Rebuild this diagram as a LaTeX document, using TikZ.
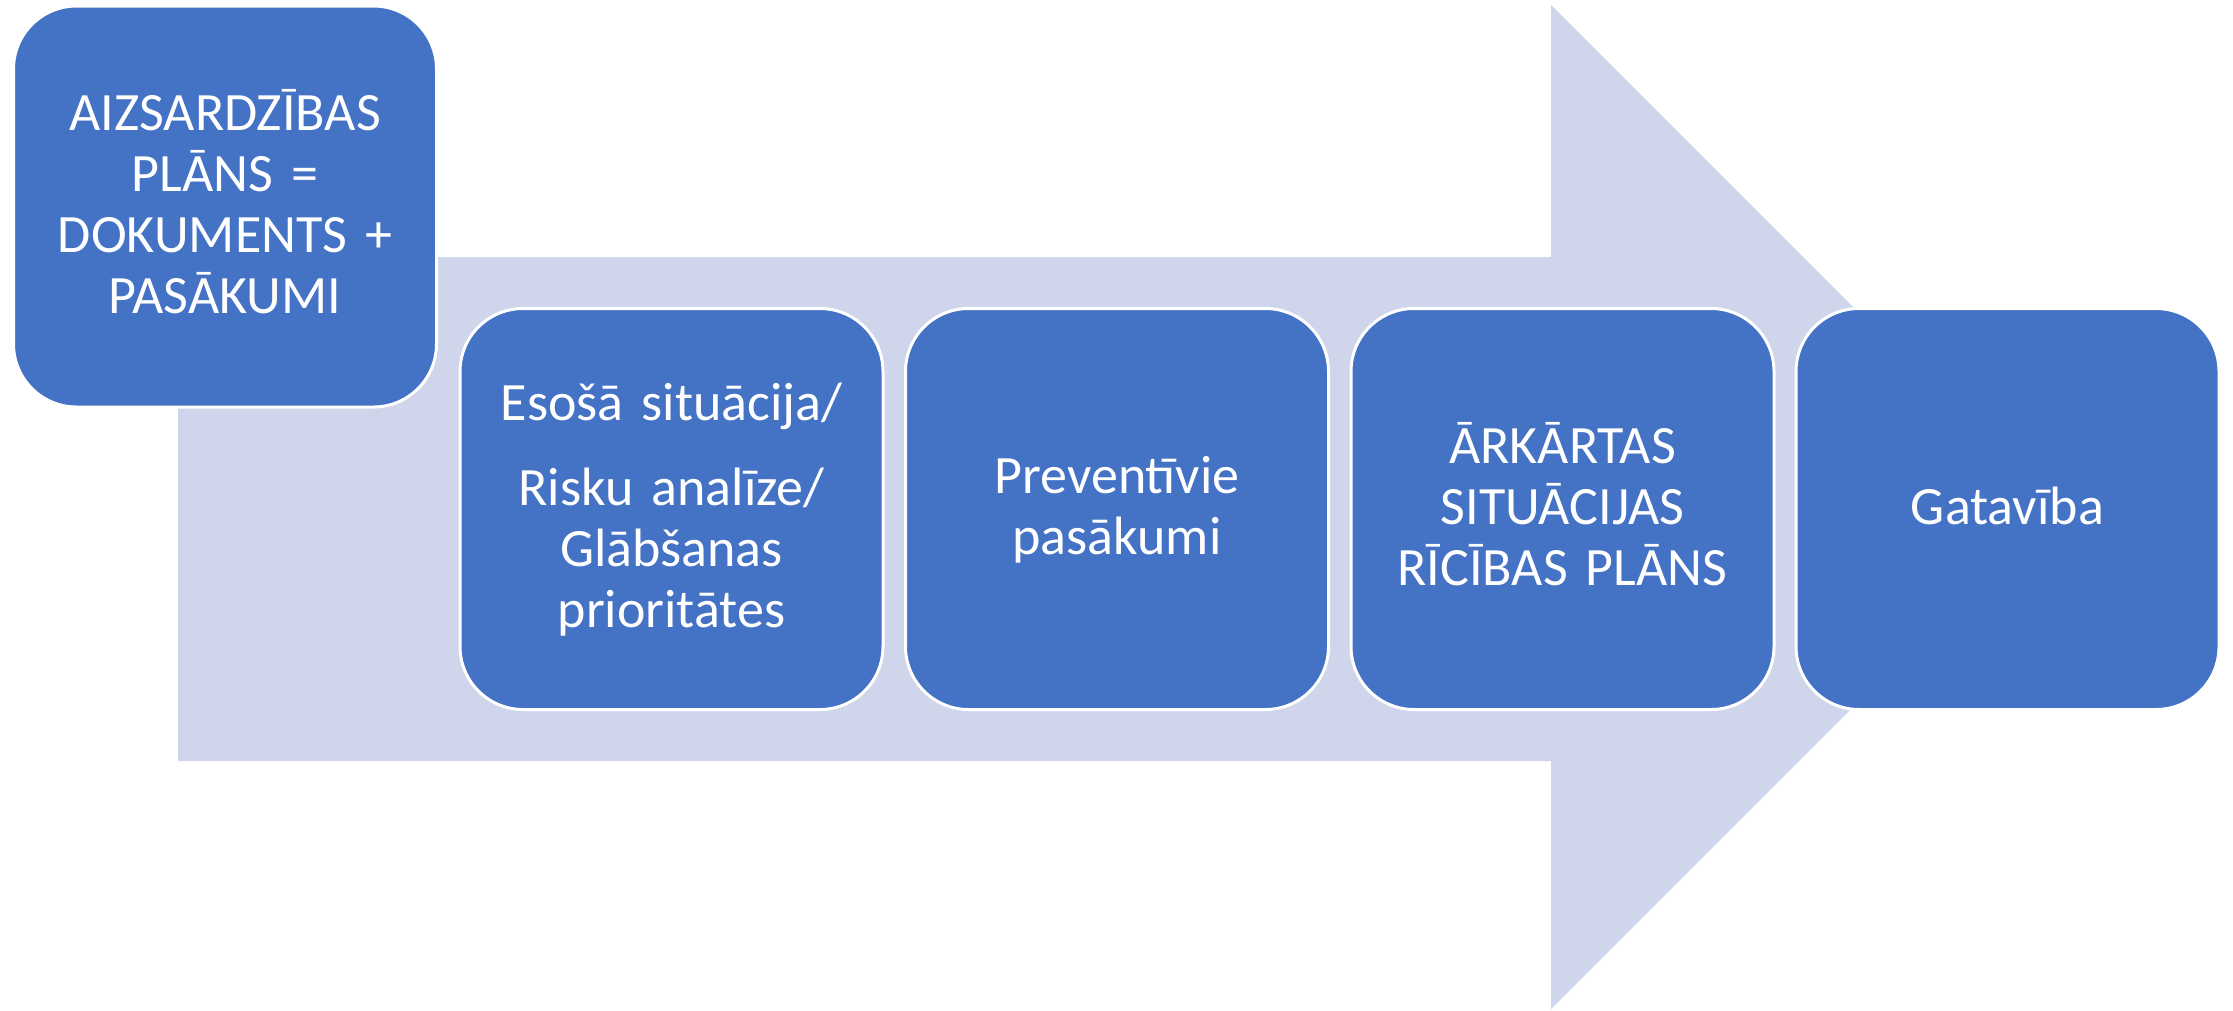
\documentclass[tikz,border=0pt]{standalone}
\usepackage{fontspec}
\setmainfont{Carlito}
\definecolor{boxblue}{HTML}{4472C4}
\definecolor{arrowfill}{HTML}{CFD5EA}
\newcommand\lstr{\rule[-15.5pt]{0pt}{61pt}}
\tikzset{
  stepbox/.style={draw=white, line width=3pt, fill=boxblue, rounded corners=63pt,
    minimum width=423pt, minimum height=401pt, text width=410pt, align=center,
    inner sep=0pt, text=white, font=\fontsize{54}{61}\selectfont},
  bigarrow/.style={fill=arrowfill, draw=none}
}
\begin{document}
\begin{tikzpicture}[x=1pt,y=-1pt]
\useasboundingbox (0,0) rectangle (2233,1010);
\fill[white] (0,0) rectangle (2233,1010);
% big arrow
\coordinate (a1) at (178,257);
\coordinate (a2) at (1551,257);
\coordinate (a3) at (1551,5);
\coordinate (tip) at (2053,507);
\coordinate (a5) at (1551,1009);
\coordinate (a6) at (1551,761);
\coordinate (a7) at (178,761);
\path[bigarrow] (a1) -- (a2) -- (a3) -- (tip) -- (a5) -- (a6) -- (a7) -- cycle;
% boxes
\node[stepbox] (plan) at (225,206.5) {\lstr AIZSARDZĪBAS\\\lstr PLĀNS =\\\lstr DOKUMENTS +\\\lstr PASĀKUMI};
\node[stepbox] (esosa) at (671.5,509) {\lstr Esošā situācija/\\[24pt]\lstr Risku analīze/\\\lstr Glābšanas\\\lstr prioritātes};
\node[stepbox] (prev) at (1117,509) {\lstr Preventīvie\\\lstr pasākumi};
\node[stepbox] (arkartas) at (1562.5,509) {\lstr ĀRKĀRTAS\\\lstr SITUĀCIJAS\\\lstr RĪCĪBAS PLĀNS};
\node[stepbox] (gatav) at (2007.5,509) {\lstr Gatavība};
\end{tikzpicture}
\end{document}
